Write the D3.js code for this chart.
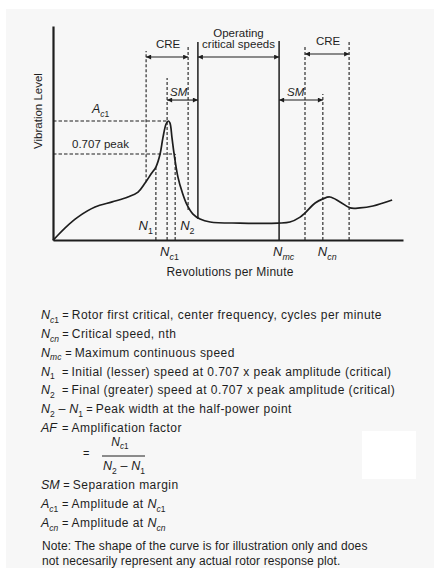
<!DOCTYPE html>
<html>
<head>
<meta charset="utf-8">
<script src="https://cdn.jsdelivr.net/npm/d3@7"></script>
<style>
  body { margin: 0; background: #fff; }
  svg { display: block; font-family: "Liberation Sans", Arial, sans-serif; }
</style>
</head>
<body>
<div id="chart"></div>
<script>
// rotor response curve (rpm: 0-1000 arbitrary, level: 0-100 arbitrary)
var curveRpm   = [0, 6, 34, 71, 120, 169, 214, 243, 263, 280, 294, 306, 314, 323, 329, 334, 340, 346, 357, 369, 383, 400, 420, 449, 534, 643, 677, 706, 720, 749, 771, 791, 820, 849, 877, 914, 969];
var curveLevel = [0, 0.9, 5.6, 10.7, 15.4, 17.8, 20.1, 22.4, 26.6, 30.8, 34.1, 40.2, 47.7, 54.2, 55.6, 54.7, 47.7, 40.2, 29.4, 22.4, 16.4, 12.1, 9.8, 8.4, 7.9, 7.9, 8.4, 10.7, 12.6, 17.3, 19.2, 20.1, 17.8, 15, 15, 15.9, 18.7];

// vertical guide lines: speed, lower and upper level
var guideNames = ["CRE1 lo", "N1", "Nc1", "N2", "CRE1 hi", "Op lo", "Nmc", "CRE2 lo", "Ncn", "CRE2 hi"];
var guideRpm   = [266, 294, 326, 349, 386, 414, 646, 720, 771, 846];
var guideLow   = [27, 0, 0, 0, 14, 9.8, 0, 0, 0, 0];
var guideHigh  = [88.3, 34, 75.7, 40.2, 90.7, 92.5, 93, 90.2, 68.2, 93];

// horizontal reference lines: peak amplitude and 0.707 x peak
var levelNames = ["A_c1", "0.707 peak"];
var levelValue = [55.6, 40.2];
var levelEnd   = [326, 349];

// double headed arrows
var arrowNames = ["CRE", "Operating|critical speeds", "CRE", "SM", "SM"];
var arrowFrom  = [266, 414, 720, 326, 646];
var arrowTo    = [386, 646, 846, 414, 771];
var arrowLevel = [85.5, 85.5, 86.9, 65.4, 65.4];

// legend
var legendSymbols = ["N_c1", "N_cn", "N_mc", "N_1", "N_2", "N_2 – N_1", "AF", "SM", "A_c1", "A_cn"];
var legendText = [
  "Rotor first critical, center frequency, cycles per minute",
  "Critical speed, nth",
  "Maximum continuous speed",
  "Initial (lesser) speed at 0.707 x peak amplitude (critical)",
  "Final (greater) speed at 0.707 x peak amplitude (critical)",
  "Peak width at the half-power point",
  "Amplification factor",
  "Separation margin",
  "Amplitude at |N_c1",
  "Amplitude at |N_cn"
];
var afNumerator = "N_c1", afDenominator = "N_2 – N_1";
var noteLines = [
  "Note: The shape of the curve is for illustration only and does",
  "not necesarily represent any actual rotor response plot."
];

var W = 434, H = 568, ink = "#1e1e1e";

var svg = d3.select("#chart").append("svg")
  .attr("width", W).attr("height", H);

svg.append("rect").attr("x", 6).attr("y", 9)
  .attr("width", W - 6).attr("height", H - 9).attr("fill", "#f7f7f7");
svg.append("rect").attr("x", 362).attr("y", 431)
  .attr("width", 54).attr("height", 48).attr("fill", "#fff");

var x = d3.scaleLinear().domain([0, 1000]).range([53, 403]);
var y = d3.scaleLinear().domain([0, 100]).range([240, 26]);

// arrow head
svg.append("defs").append("marker")
  .attr("id", "ah").attr("viewBox", "0 0 10 10")
  .attr("refX", 10).attr("refY", 5)
  .attr("markerUnits", "userSpaceOnUse")
  .attr("markerWidth", 7).attr("markerHeight", 5)
  .attr("orient", "auto-start-reverse")
  .append("path").attr("d", "M0,0L10,5L0,10z").attr("fill", ink);

// writes "N_c1" style symbols: italic base, subscript after "_"
function symbol(t, str, size) {
  var shift = 0;
  str.split(" ").forEach(function(tok, i) {
    var dx = i > 0 ? size * 0.3 : null;
    if (tok === "–") {
      t.append("tspan").attr("dx", dx).attr("dy", shift ? -shift : null)
        .attr("font-style", "normal").attr("letter-spacing", 0).text("–");
      shift = 0;
      return;
    }
    var p = tok.split("_");
    t.append("tspan").attr("font-style", "italic").attr("letter-spacing", 0)
      .attr("dx", dx).attr("dy", shift ? -shift : null).text(p[0]);
    shift = 0;
    if (p[1]) {
      var d = size * 0.28;
      p[1].split("").forEach(function(ch, j) {
        t.append("tspan")
          .attr("font-size", size * 0.68)
          .attr("letter-spacing", 0)
          .attr("font-style", /[0-9]/.test(ch) ? "normal" : "italic")
          .attr("dy", j === 0 ? d : null)
          .text(ch);
      });
      shift = d;
    }
  });
  return t;
}

var g = svg.append("g").attr("fill", ink);

// guide lines
guideNames.forEach(function(n, i) {
  var solid = (n === "Op lo" || n === "Nmc");
  g.append("line")
    .attr("x1", x(guideRpm[i])).attr("x2", x(guideRpm[i]))
    .attr("y1", y(guideLow[i])).attr("y2", y(guideHigh[i]))
    .attr("stroke", ink)
    .attr("stroke-width", solid ? 1.5 : 1.1)
    .attr("stroke-dasharray", solid ? null : "3,2");
});

// reference levels
levelNames.forEach(function(n, i) {
  g.append("line")
    .attr("x1", x(0)).attr("x2", x(levelEnd[i]))
    .attr("y1", y(levelValue[i])).attr("y2", y(levelValue[i]))
    .attr("stroke", ink).attr("stroke-width", 1.1)
    .attr("stroke-dasharray", "3.5,2");
});
symbol(g.append("text").attr("x", 92).attr("y", y(levelValue[0]) - 8).attr("font-size", 12.5), "A_c1", 12.5);
g.append("text").attr("x", 72).attr("y", y(levelValue[1]) - 6)
  .attr("font-size", 11.5).text(levelNames[1]);

// arrows
arrowNames.forEach(function(n, i) {
  g.append("line")
    .attr("x1", x(arrowFrom[i])).attr("x2", x(arrowTo[i]))
    .attr("y1", y(arrowLevel[i])).attr("y2", y(arrowLevel[i]))
    .attr("stroke", ink).attr("stroke-width", 1.1)
    .attr("marker-start", "url(#ah)").attr("marker-end", "url(#ah)");
  var cx = (x(arrowFrom[i]) + x(arrowTo[i])) / 2;
  if (n === "SM") {
    g.append("text").attr("x", x(arrowFrom[i]) + (i === 3 ? 3 : 8)).attr("y", y(arrowLevel[i]) - 4)
      .attr("font-size", 11.5).attr("font-style", "italic").text(n);
  } else {
    var lines = n.split("|");
    lines.forEach(function(s, k) {
      g.append("text").attr("x", cx + (lines.length > 1 ? 0 : 1))
        .attr("y", y(arrowLevel[i]) - 9 - (lines.length - 1 - k) * 11)
        .attr("text-anchor", "middle").attr("font-size", 11.5).text(s);
    });
  }
});

// curve
var line = d3.line()
  .x(function(d) { return x(d[0]); })
  .y(function(d) { return y(d[1]); })
  .curve(d3.curveCatmullRom.alpha(0.5));
g.append("path")
  .datum(d3.zip(curveRpm, curveLevel))
  .attr("d", line)
  .attr("fill", "none").attr("stroke", ink).attr("stroke-width", 1.7);

// axes
g.append("g").attr("transform", "translate(" + x(0) + ",0)")
  .call(d3.axisLeft(y).ticks(0).tickSizeOuter(0))
  .call(function(a) { a.select(".domain").attr("stroke", ink).attr("stroke-width", 2.2); });
g.append("g").attr("transform", "translate(0," + y(0) + ")")
  .call(d3.axisBottom(x).ticks(0).tickSizeOuter(0))
  .call(function(a) { a.select(".domain").attr("stroke", ink).attr("stroke-width", 2.2); });

// speed labels
function gx(name) { return x(guideRpm[guideNames.indexOf(name)]); }
symbol(g.append("text").attr("x", gx("N1") - 3).attr("y", 230).attr("text-anchor", "end").attr("font-size", 13), "N_1", 13);
symbol(g.append("text").attr("x", gx("N2") + 5).attr("y", 230).attr("font-size", 13), "N_2", 13);
symbol(g.append("text").attr("x", gx("Nc1") - 7).attr("y", 256).attr("font-size", 13), "N_c1", 13);
symbol(g.append("text").attr("x", gx("Nmc") - 6).attr("y", 256).attr("font-size", 13), "N_mc", 13);
symbol(g.append("text").attr("x", gx("Ncn") - 5).attr("y", 256).attr("font-size", 13), "N_cn", 13);

g.append("text").attr("x", 230).attr("y", 276).attr("text-anchor", "middle")
  .attr("font-size", 12).attr("letter-spacing", 0.2).text("Revolutions per Minute");
g.append("text").attr("transform", "translate(42,111) rotate(-90)")
  .attr("text-anchor", "middle").attr("font-size", 11.5).text("Vibration Level");

// legend
var rowY = [319, 338, 356.5, 375.5, 394, 413, 432, 489, 508, 527];
var lg = svg.append("g").attr("fill", ink).attr("font-size", 12).attr("letter-spacing", 0.45);
legendSymbols.forEach(function(s, i) {
  var st = symbol(lg.append("text").attr("x", 41).attr("y", rowY[i]).attr("font-size", 12.5), s, 12.5);
  var b = st.node().getBBox();
  var ex = Math.max(62, b.x + b.width + 3);
  lg.append("text").attr("x", ex).attr("y", rowY[i]).attr("font-size", 11).attr("letter-spacing", 0).text("=");
  var parts = legendText[i].split("|");
  var t = lg.append("text").attr("x", ex + 9.5).attr("y", rowY[i]).text(parts[0]);
  if (parts[1]) symbol(t.append("tspan").attr("font-size", 12.5), parts[1], 12.5);
});
// amplification factor fraction
lg.append("text").attr("x", 83).attr("y", 457).attr("font-size", 11).attr("letter-spacing", 0).text("=");
symbol(lg.append("text").attr("x", 120).attr("y", 446).attr("text-anchor", "middle").attr("font-size", 12), afNumerator, 12);
lg.append("line").attr("x1", 102).attr("x2", 145).attr("y1", 456).attr("y2", 456)
  .attr("stroke", ink).attr("stroke-width", 1);
symbol(lg.append("text").attr("x", 124).attr("y", 470).attr("text-anchor", "middle").attr("font-size", 12.5), afDenominator, 12.5);

noteLines.forEach(function(s, i) {
  lg.append("text").attr("x", 42).attr("y", 550 + i * 15).attr("letter-spacing", 0.1).text(s);
});
</script>
</body>
</html>
